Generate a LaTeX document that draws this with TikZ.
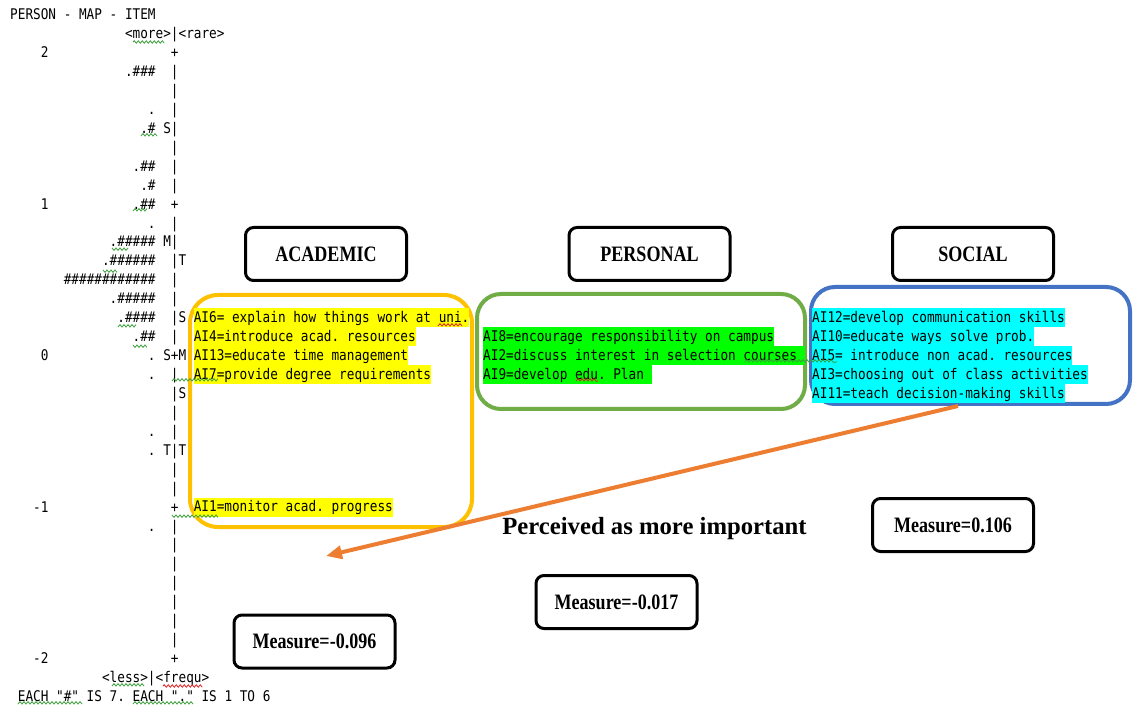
\documentclass[tikz,border=0pt]{standalone}
\usepackage{fontspec}
\usepackage{tikz}
\usetikzlibrary{arrows.meta}
\usetikzlibrary{decorations.pathmorphing}
\setmainfont{Liberation Serif}
\newfontfamily\mapfont[FakeStretch=0.865]{DejaVu Sans Mono}
\newfontfamily\lblfont[FakeStretch=0.82]{Liberation Serif}
\definecolor{acadcol}{HTML}{FFC000}
\definecolor{perscol}{HTML}{70AD47}
\definecolor{soccol}{HTML}{4472C4}
\definecolor{arrcol}{HTML}{ED7D31}
\definecolor{hlyellow}{HTML}{FFFF00}
\definecolor{hlgreen}{HTML}{00FF00}
\definecolor{hlcyan}{HTML}{00FFFF}
\definecolor{spellgreen}{HTML}{3A9E3A}
\definecolor{spellred}{HTML}{E02020}
\newcommand\gap[1]{\hspace*{#1\fontdimen2\font}}
\frenchspacing

\begin{document}
\begin{tikzpicture}
	[x=1pt, y=-1pt, node distance={323.5pt},
	 map/.style = {font=\mapfont\fontsize{14.7}{18.94}\selectfont},
	 item/.style = {map, inner sep=0pt, anchor=base west, text height=14.1pt, text depth=4.85pt},
	 grp/.style = {draw=#1, line width=4pt, rounded corners=24pt},
	 title/.style = {draw, line width=3pt, rounded corners=8pt, minimum width=161pt, minimum height=53pt, inner sep=0pt, font=\lblfont\bfseries\fontsize{22}{26}\selectfont},
	 imp/.style = {draw=arrcol, line width=4pt, -{Triangle[length=16pt, width=13pt]}},
	 squig/.style = {draw=#1, line width=0.8pt, decorate, decoration={snake, amplitude=1.2pt, segment length=4pt}}]
	\fill[white] (0,0) rectangle (1133,708);

	% person - item map
	\node[map, anchor=north west, inner sep=0pt, align=left] (map) at (10,6.2) {\strut PERSON - MAP - ITEM\\
	\gap{15}<more>|<rare>\\
	\gap{4}2\gap{16}+\\
	\gap{15}.\#\#\#\gap{2}|\\
	\gap{21}|\\
	\gap{18}.\gap{2}|\\
	\gap{17}.\# S|\\
	\gap{21}|\\
	\gap{16}.\#\#\gap{2}|\\
	\gap{17}.\#\gap{2}|\\
	\gap{4}1\gap{11}.\#\#\gap{2}+\\
	\gap{18}.\gap{2}|\\
	\gap{13}.\#\#\#\#\# M|\\
	\gap{12}.\#\#\#\#\#\#\gap{2}|T\\
	\gap{7}\#\#\#\#\#\#\#\#\#\#\#\#\gap{2}|\\
	\gap{13}.\#\#\#\#\#\gap{2}|\\
	\gap{14}.\#\#\#\#\gap{2}|S\\
	\gap{16}.\#\#\gap{2}|\\
	\gap{4}0\gap{13}. S+M\\
	\gap{18}.\gap{2}|\\
	\gap{21}|S\\
	\gap{21}|\\
	\gap{18}.\gap{2}|\\
	\gap{18}. T|T\\
	\gap{21}|\\
	\gap{21}|\\
	\gap{3}-1\gap{16}+\\
	\gap{18}.\gap{2}|\\
	\gap{21}|\\
	\gap{21}|\\
	\gap{21}|\\
	\gap{21}|\\
	\gap{21}|\\
	\gap{21}|\\
	\gap{3}-2\gap{16}+\\
	\gap{12}<less>|<frequ>\\
	\gap{1}EACH "\#" IS 7. EACH "." IS 1 TO 6};

	% groups
	\node[grp=acadcol, rounded corners=28pt, minimum width=282pt, minimum height=232pt] (acadbox) at (331,411) {};
	\node[grp=perscol, minimum width=328pt, minimum height=115pt] (persbox) at (641,351.5) {};
	\node[grp=soccol, minimum width=319pt, minimum height=117pt] (socbox) at (970.5,345.5) {};

	\node[item, fill=hlyellow] (a6) at (193.6,322.5) {AI6= explain how things work at uni.};
	\node[item, fill=hlyellow] (a4) at (193.6,341.45) {AI4=introduce acad. resources};
	\node[item, fill=hlyellow] (a13) at (193.6,360.4) {AI13=educate time management};
	\node[item, fill=hlyellow] (a7) at (193.6,379.3) {AI7=provide degree requirements};
	\node[item, fill=hlyellow] (a1) at (193.6,511.9) {AI1=monitor acad. progress};

	\node[item, fill=hlgreen] (p8) at (483,341.45) {AI8=encourage responsibility on campus};
	\node[item, fill=hlgreen] (p2) at (483,360.4) {AI2=discuss interest in selection courses\gap{1}\null};
	\node[item, fill=hlgreen] (p9) at (483,379.3) {AI9=develop edu. Plan\gap{1}\null};

	\node[item, fill=hlcyan] (s12) at (812,322.5) {AI12=develop communication skills};
	\node[item, fill=hlcyan] (s10) at (812,341.45) {AI10=educate ways solve prob.};
	\node[item, fill=hlcyan] (s5) at (812,360.4) {AI5= introduce non acad. resources};
	\node[item, fill=hlcyan] (s3) at (812,379.3) {AI3=choosing out of class activities};
	\node[item, fill=hlcyan] (s11) at (812,398.3) {AI11=teach decision-making skills};

	% spelling marks
	\draw[squig=spellgreen] (133,42) -- (163,42) (141,136) -- (157,136) (133,211) -- (148,211)
		(112,248) -- (127,248) (103,270) -- (118,270) (118,327) -- (135,327) (133,345) -- (148,345)
		(172,381) -- (218,381) (172,515) -- (218,515) (112,686) -- (143,686)
		(18,704) -- (82,704) (133,704) -- (193,704) (745,362) -- (837,362);
	\draw[squig=spellred] (163,686) -- (202,686) (438,326) -- (462,326) (576,381) -- (598,381);

	\node[title] (acad) at (326,254) {ACADEMIC};
	\node[title] (pers) [right of = acad] {PERSONAL};
	\node[title] (soc) [right of = pers] {SOCIAL};

	\node[title] (macad) at (314.5,641.5) {Measure=-0.096};
	\node[title] (mpers) at (616.5,602) {Measure=-0.017};
	\node[title] (msoc) at (953,525) {Measure=0.106};

	\node[anchor=base, font=\bfseries\fontsize{24.7}{29}\selectfont] (note) at (654.5,534) {Perceived as more important};

	\coordinate (head) at (326,556);
	\draw[imp] ([xshift=-12.5pt]socbox.south) -- (head);

\end{tikzpicture}
\end{document}
